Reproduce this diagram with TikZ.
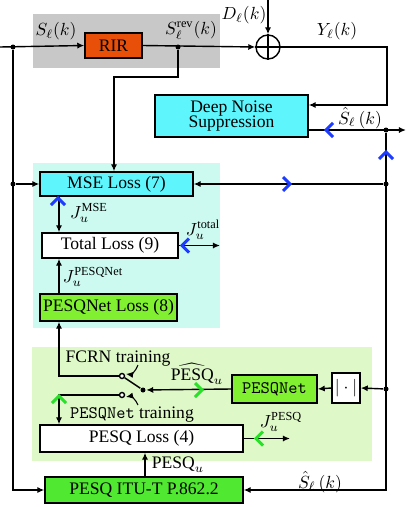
\documentclass[tikz,border=0pt]{standalone}
\usepackage{fontspec}
\setmainfont{Liberation Serif}
\usetikzlibrary{arrows.meta}
\definecolor{rircol}{RGB}{232,80,10}
\definecolor{dnscol}{RGB}{94,245,253}
\definecolor{bgcyan}{RGB}{204,250,240}
\definecolor{bggreen}{RGB}{222,248,200}
\definecolor{bggray}{RGB}{200,200,200}
\definecolor{limecol}{RGB}{128,240,48}
\definecolor{itucol}{RGB}{80,232,48}
\definecolor{bpblue}{RGB}{30,60,255}
\definecolor{bpgreen}{RGB}{40,225,40}
\tikzset{
  blk/.style={draw,thick,inner sep=0pt,align=center},
  junc/.style={circle,fill,inner sep=0pt,minimum size=0.1cm},
  swc/.style={circle,draw,thick,fill=white,inner sep=0pt,minimum size=0.1cm},
  chev/.pic={\draw[line width=1.7pt,pic actions] (7,-7) -- (0,0) -- (7,7);}
}

\begin{document}
\begin{tikzpicture}[x=0.02cm,y=-0.02cm,thick,>={Latex[length=4pt,width=3.5pt]}]
  \useasboundingbox (0,0) rectangle (407,507);
  \fill[bggray] (33,14) rectangle (220,68);
  \fill[bgcyan] (33,163) rectangle (220,328);
  \fill[bggreen] (32,347) rectangle (372,461);

  \node[blk,fill=rircol,minimum width=1.14cm,minimum height=0.5cm] (rir) at (113.5,45.5) {RIR};
  \node[circle,draw,thick,minimum size=0.48cm,inner sep=0pt] (sum) at (268,47) {};
  \draw (sum.north) -- (sum.south) (sum.west) -- (sum.east);
  \node[blk,fill=dnscol,minimum width=3.06cm,minimum height=0.84cm] (dns) at (231.5,116) {Deep Noise\\[-3pt]Suppression};
  \node[blk,fill=dnscol,minimum width=3.06cm,minimum height=0.48cm] (mse) at (116.5,184) {MSE Loss (7)};
  \node[blk,fill=white,minimum width=2.72cm,minimum height=0.5cm] (total) at (110,245.5) {Total Loss (9)};
  \node[blk,fill=limecol,minimum width=2.74cm,minimum height=0.54cm] (pnloss) at (108.5,307.5) {PESQNet Loss (8)};
  \node[blk,fill=limecol,minimum width=1.7cm,minimum height=0.56cm] (pesqnet) at (274.5,389) {\texttt{PESQNet}};
  \node[blk,fill=white,minimum width=0.56cm,minimum height=0.6cm] (abs) at (346,388) {$|\cdot|$};
  \node[blk,fill=white,minimum width=4.06cm,minimum height=0.54cm] (pesqloss) at (141.5,438.5) {PESQ Loss (4)};
  \node[blk,fill=itucol,minimum width=3.96cm,minimum height=0.52cm] (itu) at (144,490) {PESQ ITU-T P.862.2};

  \coordinate (in) at (0,47);
  \coordinate (dtop) at (268,0);
  \coordinate (yy) at (387,105);
  \coordinate (out) at (406,130);
  \coordinate (brk) at (114,77);
  \coordinate (colj) at (59,0);
  \coordinate (jtot) at (220,245.5);
  \coordinate (jpesq) at (290,438.5);
  \node[junc] (jl1) at (13,47) {};
  \node[junc] (jl2) at (13,184) {};
  \node[junc] (rev) at (178,47) {};
  \node[junc] (jr1) at (386,130) {};
  \node[junc] (jr2) at (386,184) {};
  \node[junc] (jr3) at (386,389) {};
  \node[junc] (piv) at (143,390) {};
  \node[swc] (cup) at (122,376) {};
  \node[swc] (clo) at (122,395) {};

  \draw[->] (in) -- (rir.west);
  \draw[->] (rir.east) -- (sum.west);
  \draw[->] (dtop) -- (sum.north);
  \draw[->] (sum.east) -| (yy) -- (dns.east |- yy);
  \draw[->] (dns.east |- jr1) -- (out);
  \draw[->] (rev) |- (brk) -- (brk |- mse.north);
  \draw[->] (jl2) -- (mse.west);
  \draw[->] (jr2) -- (mse.east);
  \draw[->] (mse.south -| colj) -- (total.north -| colj);
  \draw[->] (pnloss.north -| colj) -- (total.south -| colj);
  \draw[->] (total.east) -- (jtot);
  \draw[->] (cup) -| (pnloss.south -| colj);
  \draw[->] (clo) -| (pesqloss.north -| colj);
  \draw (piv) -- (cup);
  \draw[->] (jr3) -- (abs.east);
  \draw[->] (abs.west) -- (pesqnet.east);
  \draw[->] (pesqnet.west) -- (piv);
  \draw[->] (pesqloss.east) -- (jpesq);
  \draw[->] (itu.north -| 145,0) -- (pesqloss.south -| 145,0);
  \draw[->] (jl1) |- (itu.west);
  \draw[->] (jr1) |- (itu.east);

  \node (lsl) at (56,31) {$S_\ell(k)$};
  \node (lrev) at (191,30) {$S_\ell^{\mathrm{rev}}(k)$};
  \node (ld) at (244,15) {$D_\ell(k)$};
  \node (ly) at (337,31) {$Y_\ell(k)$};
  \node (lsh) at (360,118) {$\hat{S}_\ell\,(k)$};
  \node (ljm) at (89,213) {$J_u^{\mathrm{MSE}}$};
  \node (ljt) at (203,230) {$J_u^{\mathrm{total}}$};
  \node (ljp) at (93,277) {$J_u^{\mathrm{PESQNet}}$};
  \node (lfc) at (118,359) {FCRN training};
  \node (lph) at (197,374) {$\widehat{\mathrm{PESQ}}_u$};
  \node (lpt) at (132,415) {\texttt{PESQNet} training};
  \node (ljq) at (281,422) {$J_u^{\mathrm{PESQ}}$};
  \node (lpu) at (178,465) {$\mathrm{PESQ}_u$};
  \node (lsh2) at (320,482) {$\hat{S}_\ell\,(k)$};

  \coordinate (fa) at (138,365);
  \coordinate (pa) at (138,405);
  \draw[->,semithick,shorten >=1pt] (fa) to[bend left=40] (cup.north east);
  \draw[->,semithick,shorten >=1pt] (pa) to[bend right=40] (clo.south east);

  \begin{scope}[bpblue]
    \pic at (326,130) {chev};
    \pic[rotate=-90] at (386,152) {chev};
    \pic[rotate=180] at (290,184) {chev};
    \pic[rotate=-90] at (58,198) {chev};
    \pic at (182,245.5) {chev};
  \end{scope}
  \begin{scope}[bpgreen]
    \pic[rotate=-90] at (59,396) {chev};
    \pic[rotate=180] at (202,390) {chev};
    \pic at (256,438.5) {chev};
  \end{scope}
\end{tikzpicture}
\end{document}
